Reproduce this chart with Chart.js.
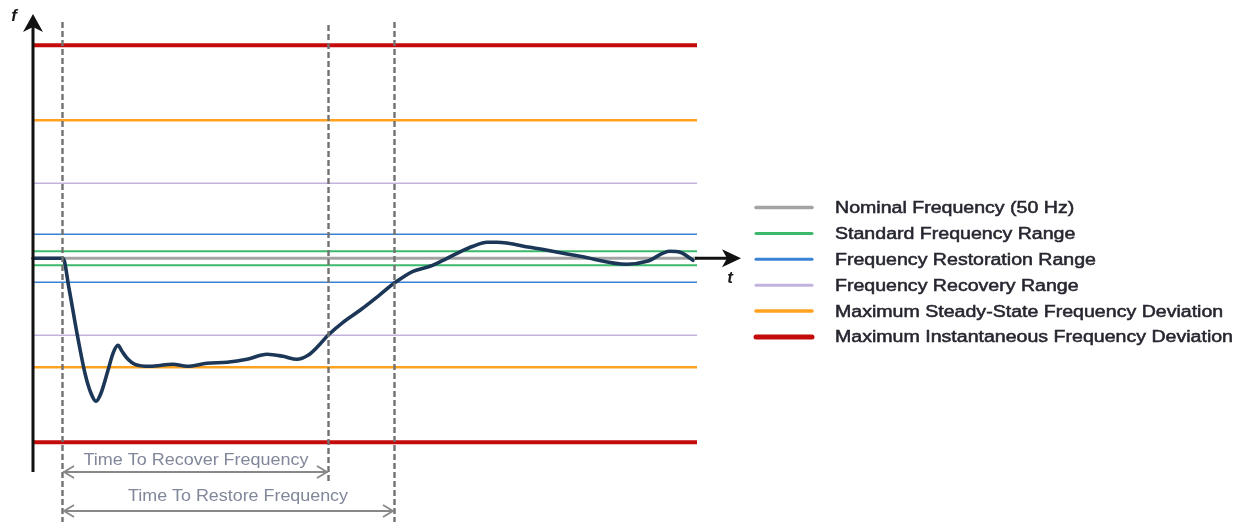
<!DOCTYPE html>
<html><head><meta charset="utf-8">
<script src="https://cdn.jsdelivr.net/npm/chart.js@4"></script>
<style>html,body{margin:0;padding:0;background:#fff;}#wrap{width:1243px;height:522px;}</style>
</head><body><div id="wrap"><canvas id="c" width="1243" height="522"></canvas></div>
<script>
// Frequency deviation (arbitrary units, 0 = nominal 50 Hz) vs time (arbitrary units)
const timeX = [0,30,36,44,52,58,63,68,75,80,85,89,95,102,117,140,154,174,194,214,234,250,264,275,285,295,310,327,345,361,380,397,410,424,440,454,464,497,547,594,614,637,647,660];
const freqY = [0,0,-30,-75,-115,-135,-143,-135,-112,-95,-87,-93,-101,-106,-108,-106,-108,-105,-104,-101,-96,-98,-101,-97,-88,-77,-64,-52,-38,-25,-13,-8,-2,5,12,16,16,11,2,-6,-3,7,6,-2];

const bandNames = ["Nominal Frequency (50 Hz)","Standard Frequency Range","Frequency Restoration Range","Frequency Recovery Range","Maximum Steady-State Frequency Deviation","Maximum Instantaneous Frequency Deviation"];
const bandUpper = [0, 7, 24, 75, 138, 213];
const bandLower = [0, -7, -24, -77, -109, -184];
const bandColors = ["#a3a3a3","#3cb96b","#3a82d6","#c2b3dd","#ffa21f","#c40a0a"];
const bandWidths = [3, 2, 1.6, 1.6, 2.6, 4];
const legendWidths = [3.5, 3, 3, 3, 3.5, 5];

const timeRange = [0, 664];
const markerTimes = [29, 295, 361];
const spanLabels = ["Time To Recover Frequency","Time To Restore Frequency"];
const spanEnds = [295, 361];

const datasets = [];
for (let i = bandNames.length - 1; i >= 0; i--) {
  const vals = i === 0 ? [bandUpper[i]] : [bandUpper[i], bandLower[i]];
  vals.forEach(v => datasets.push({
    label: bandNames[i],
    data: [{x: timeRange[0], y: v}, {x: timeRange[1], y: v}],
    borderColor: bandColors[i], borderWidth: bandWidths[i],
    pointRadius: 0, fill: false, tension: 0, clip: false, order: 2
  }));
}
datasets.push({
  label: "Frequency",
  data: timeX.map((x, k) => ({x: x, y: freqY[k]})),
  borderColor: "#1b3656", borderWidth: 3.6, pointRadius: 0,
  cubicInterpolationMode: "monotone", fill: false, clip: false, order: 0,
  borderCapStyle: "round", borderJoinStyle: "round"
});

function arrowHead(ctx, x, y, dir, size) {
  ctx.beginPath();
  ctx.moveTo(x - dir * size, y - size * 0.6);
  ctx.lineTo(x, y);
  ctx.lineTo(x - dir * size, y + size * 0.6);
  ctx.stroke();
}

function scaledText(ctx, text, x, y, width, align) {
  const w = ctx.measureText(text).width;
  const s = width / w;
  ctx.save();
  ctx.translate(x, y); ctx.scale(s, 1);
  ctx.textAlign = align;
  ctx.fillText(text, 0, 0);
  ctx.restore();
}

const overlay = {
  id: "overlay",
  afterDatasetsDraw(chart) {
    const ctx = chart.ctx, xs = chart.scales.x, ys = chart.scales.y;
    const y0 = ys.getPixelForValue(0);
    ctx.save();
    // dashed markers
    ctx.strokeStyle = "#727272"; ctx.lineWidth = 2.4; ctx.setLineDash([6, 3]);
    const tops = [22, 25, 22], bots = [522, 482, 522];
    markerTimes.forEach((t, i) => {
      const px = Math.round(xs.getPixelForValue(t)) + 0.5;
      ctx.beginPath(); ctx.moveTo(px, tops[i]); ctx.lineTo(px, bots[i]); ctx.stroke();
    });
    ctx.setLineDash([]);
    // y axis
    const ax = xs.getPixelForValue(timeRange[0]);
    ctx.strokeStyle = "#111"; ctx.lineWidth = 3;
    ctx.beginPath(); ctx.moveTo(ax, 472); ctx.lineTo(ax, 24); ctx.stroke();
    ctx.fillStyle = "#111";
    ctx.beginPath(); ctx.moveTo(ax, 14); ctx.lineTo(ax + 10, 32); ctx.lineTo(ax, 27); ctx.lineTo(ax - 10, 32); ctx.closePath(); ctx.fill();
    // t axis arrow
    const ex = xs.getPixelForValue(timeRange[1]);
    ctx.lineWidth = 3;
    ctx.beginPath(); ctx.moveTo(ex - 2, y0); ctx.lineTo(733, y0); ctx.stroke();
    ctx.beginPath(); ctx.moveTo(741, y0); ctx.lineTo(722, y0 - 9); ctx.lineTo(727, y0); ctx.lineTo(722, y0 + 9); ctx.closePath(); ctx.fill();
    // axis labels
    ctx.font = "italic bold 17px 'Liberation Sans', Arial, sans-serif";
    ctx.fillStyle = "#1a1a1a"; ctx.textAlign = "center"; ctx.textBaseline = "middle";
    ctx.fillText("f", 14, 16);
    ctx.fillText("t", 730, 278);
    // span arrows
    const rowsText = [461, 497], rowsArrow = [472, 511];
    const textCenters = [196, 238], textWidths = [225, 220];
    const x0 = xs.getPixelForValue(markerTimes[0]) + 1;
    ctx.font = "16px 'Liberation Sans', Arial, sans-serif";
    spanLabels.forEach((lab, i) => {
      const x1 = xs.getPixelForValue(spanEnds[i]);
      ctx.strokeStyle = "#888"; ctx.lineWidth = 1.8;
      ctx.beginPath(); ctx.moveTo(x0, rowsArrow[i]); ctx.lineTo(x1, rowsArrow[i]); ctx.stroke();
      arrowHead(ctx, x0 + 1, rowsArrow[i], -1, 10);
      arrowHead(ctx, x1 - 1, rowsArrow[i], 1, 10);
      ctx.fillStyle = "#80879a";
      scaledText(ctx, lab, textCenters[i], rowsText[i], textWidths[i], "center");
    });
    // legend
    ctx.font = "16px 'Liberation Sans', Arial, sans-serif";
    const sx = 398 / ctx.measureText(bandNames[5]).width;
    bandNames.forEach((name, i) => {
      const ly = 207.5 + i * 25.9;
      ctx.strokeStyle = bandColors[i]; ctx.lineWidth = legendWidths[i]; ctx.lineCap = "round";
      ctx.beginPath(); ctx.moveTo(756, ly); ctx.lineTo(812, ly); ctx.stroke();
      ctx.save(); ctx.translate(835, ly + 1); ctx.scale(sx, 1);
      ctx.textAlign = "left";
      ctx.fillStyle = "#262630"; ctx.strokeStyle = "#262630"; ctx.lineWidth = 0.5;
      ctx.fillText(name, 0, 0); ctx.strokeText(name, 0, 0);
      ctx.restore();
    });
    ctx.restore();
  }
};

new Chart(document.getElementById("c"), {
  type: "line",
  data: { datasets },
  options: {
    responsive: false, animation: false, devicePixelRatio: 1,
    layout: { padding: { left: 33, right: 1243 - 697, top: 15, bottom: 50 } },
    scales: {
      x: { type: "linear", min: timeRange[0], max: timeRange[1], display: false },
      y: { type: "linear", min: -213.7, max: 243.3, display: false }
    },
    plugins: { legend: { display: false }, tooltip: { enabled: false } }
  },
  plugins: [overlay]
});
</script></body></html>
